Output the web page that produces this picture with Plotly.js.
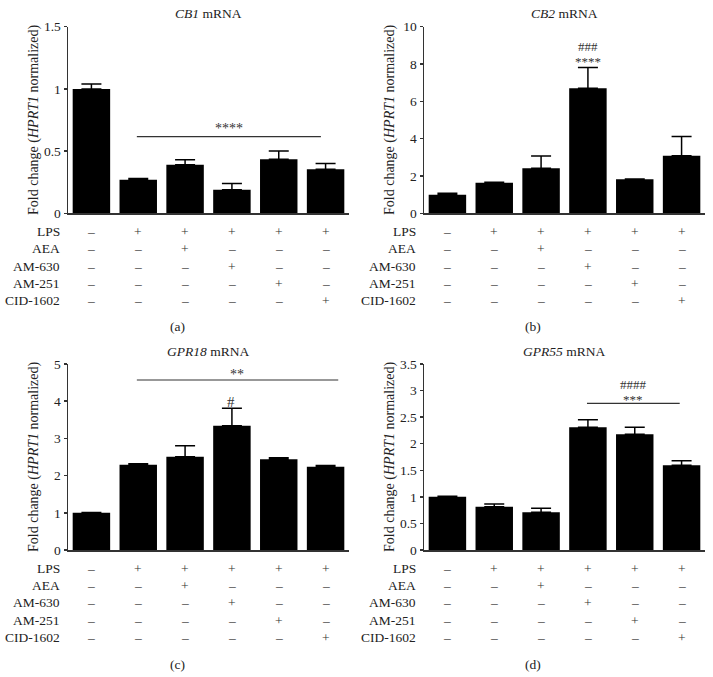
<!DOCTYPE html>
<html><head><meta charset="utf-8">
<script src="https://cdn.plot.ly/plotly-3.0.1.min.js"></script>
<style>html,body{margin:0;padding:0;background:#fff}#chart{width:713px;height:677px}</style>
</head><body><div id="chart"></div>
<script>
// ---- data ----
const groups = ["Control","LPS","LPS+AEA","LPS+AM-630","LPS+AM-251","LPS+CID-1602"];
const cb1Values   = [1.00, 0.27, 0.39, 0.19, 0.435, 0.355];
const cb1Err      = [0.04, 0.01, 0.04, 0.05, 0.065, 0.045];
const cb2Values   = [1.00, 1.64, 2.41, 6.70, 1.82, 3.09];
const cb2Err      = [0.07, 0.02, 0.66, 1.12, 0.02, 1.02];
const gpr18Values = [1.00, 2.29, 2.51, 3.34, 2.44, 2.24];
const gpr18Err    = [0.01, 0.03, 0.29, 0.47, 0.04, 0.03];
const gpr55Values = [1.00, 0.815, 0.71, 2.31, 2.18, 1.595];
const gpr55Err    = [0.01, 0.05, 0.075, 0.14, 0.13, 0.085];
const treatments  = ["LPS","AEA","AM-630","AM-251","CID-1602"];
const lpsRow   = [0,1,1,1,1,1];
const aeaRow   = [0,0,1,0,0,0];
const am630Row = [0,0,0,1,0,0];
const am251Row = [0,0,0,0,1,0];
const cidRow   = [0,0,0,0,0,1];
const tableRows = [lpsRow, aeaRow, am630Row, am251Row, cidRow];

// ---- layout helpers ----
const W = 713, H = 677;
const px = x => x / W, py = y => 1 - y / H;
const FONT = "Liberation Serif, Times New Roman, serif";

const panels = [
  {n:"",  dx:0,   top:26.7, bot:213.3, range:[0,1.5], dtick:0.5, vals:cb1Values,   errs:cb1Err,   title:"<i>CB1</i> mRNA",   tag:"(a)", tagY:326.7},
  {n:"2", dx:356, top:26.7, bot:213.3, range:[0,10],  dtick:2,   vals:cb2Values,   errs:cb2Err,   title:"<i>CB2</i> mRNA",   tag:"(b)", tagY:326.7},
  {n:"3", dx:0,   top:364,  bot:550,   range:[0,5],   dtick:1,   vals:gpr18Values, errs:gpr18Err, title:"<i>GPR18</i> mRNA", tag:"(c)", tagY:664.3},
  {n:"4", dx:356, top:364,  bot:550,   range:[0,3.5], dtick:0.5, vals:gpr55Values, errs:gpr55Err, title:"<i>GPR55</i> mRNA", tag:"(d)", tagY:664.3}
];

const traces = [], annotations = [], shapes = [];
const layout = {
  width: W, height: H, margin:{l:0,r:0,t:0,b:0},
  paper_bgcolor:"#fff", plot_bgcolor:"#fff", showlegend:false,
  font:{family:FONT, size:13, color:"#222"}
};

panels.forEach(p => {
  const xa = "x" + p.n, ya = "y" + p.n;
  traces.push({
    type:"bar", x:groups, y:p.vals, xaxis:xa, yaxis:ya,
    marker:{color:"#000", line:{width:0}},
    error_y:{type:"data", symmetric:false, array:p.errs, arrayminus:p.errs.map(()=>0),
             color:"#000", thickness:1.5, width:10},
    hoverinfo:"skip"
  });
  layout["xaxis" + p.n] = {
    domain:[px(68 + p.dx), px(349 + p.dx)], anchor:ya,
    type:"category", range:[-0.5, 5.5], showline:true, linecolor:"#333", linewidth:1.5,
    ticks:"", showticklabels:false, showgrid:false, zeroline:false, fixedrange:true
  };
  layout["yaxis" + p.n] = {
    domain:[py(p.bot), py(p.top)], anchor:xa, range:p.range, dtick:p.dtick, tick0:0,
    showline:true, linecolor:"#333", linewidth:1.5, ticks:"outside", ticklen:3,
    tickcolor:"#333", tickwidth:1.5, showgrid:false, zeroline:false,
    tickfont:{family:FONT, size:13.5, color:"#222"}, fixedrange:true
  };
  // title
  annotations.push({xref:"paper", yref:"paper", x:px(208 + p.dx), y:py(p.top - 13),
    text:p.title, showarrow:false, xanchor:"center", yanchor:"middle",
    font:{family:FONT, size:13.5, color:"#222"}});
  // y axis title
  annotations.push({xref:"paper", yref:"paper", x:px(34 + p.dx), y:py((p.top + p.bot)/2),
    text:"Fold change (<i>HPRT1</i> normalized)", textangle:-90, showarrow:false,
    xanchor:"center", yanchor:"middle", font:{family:FONT, size:14, color:"#222"}});
  // treatment table
  treatments.forEach((t, k) => {
    const yy = py(p.bot + 18.3 + 17.3 * k);
    annotations.push({xref:"paper", yref:"paper", x:px(62 + p.dx), y:yy, text:t,
      showarrow:false, xanchor:"right", yanchor:"middle", font:{family:FONT, size:13.5, color:"#222"}});
    tableRows[k].forEach((v, i) => {
      annotations.push({xref:xa, yref:"paper", x:i, y:yy, text: v ? "+" : "\u2013",
        showarrow:false, xanchor:"center", yanchor:"middle",
        font:{family:FONT, size:13.5, color:"#333"}});
    });
  });
  // panel tag
  annotations.push({xref:"paper", yref:"paper", x:px(177 + p.dx), y:py(p.tagY), text:p.tag,
    showarrow:false, xanchor:"center", yanchor:"middle", font:{family:FONT, size:13.5, color:"#222"}});
});

// significance marks
function sig(xa, ya, x, y, text, size) {
  annotations.push({xref:xa, yref:ya, x:x, y:y, text:text, showarrow:false,
    xanchor:"center", yanchor:"middle", font:{family:FONT, size:size || 14, color:"#333"}});
}
function bracket(xa, ya, x0, x1, y) {
  shapes.push({type:"line", xref:xa, yref:ya, x0:x0, x1:x1, y0:y, y1:y, line:{color:"#333", width:1.2}});
}
// (a)
bracket("x", "y", 0.97, 4.9, 0.617);
sig("x", "y", 2.94, 0.68, "****");
// (b)
sig("x2", "y2", 3, 8.93, "###", 13);
sig("x2", "y2", 3, 8.13, "****", 13);
// (c)
bracket("x3", "y3", 0.97, 5.27, 4.57);
sig("x3", "y3", 3.1, 4.73, "**");
sig("x3", "y3", 2.98, 3.99, "#", 15);
// (d)
bracket("x4", "y4", 2.98, 4.96, 2.76);
sig("x4", "y4", 3.97, 3.114, "####", 13);
sig("x4", "y4", 3.97, 2.832, "***", 13);

layout.annotations = annotations;
layout.shapes = shapes;
Plotly.newPlot("chart", traces, layout, {displayModeBar:false, staticPlot:true});
</script>
</body></html>
